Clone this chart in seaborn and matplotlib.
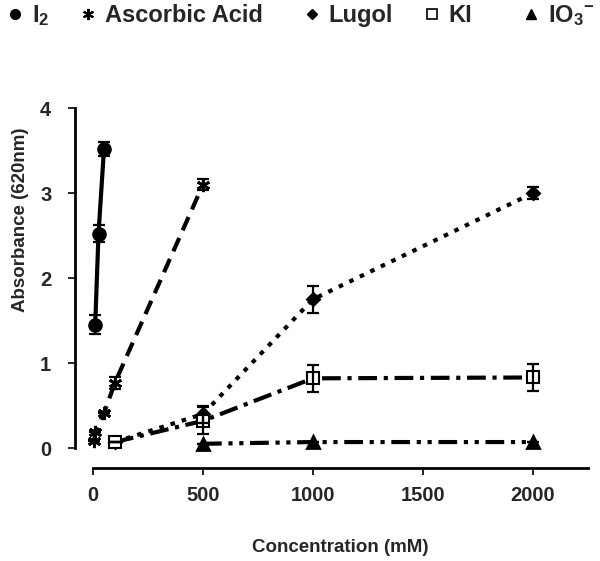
import matplotlib
matplotlib.use("Agg")
import matplotlib.pyplot as plt
from matplotlib.lines import Line2D
import seaborn as sns
import pandas as pd

# values
i2_conc = [10, 25, 50]
i2_abs = [1.45, 2.52, 3.52]
i2_err = [0.11, 0.10, 0.08]

asc_conc = [5, 10, 50, 100, 500]
asc_abs = [0.08, 0.19, 0.41, 0.77, 3.10]
asc_err = [0.0, 0.0, 0.0, 0.07, 0.07]

lugol_conc = [100, 500, 1000, 2000]
lugol_abs = [0.07, 0.40, 1.75, 3.00]
lugol_err = [0.0, 0.10, 0.16, 0.07]

ki_conc = [100, 500, 1000, 2000]
ki_abs = [0.07, 0.32, 0.82, 0.83]
ki_err = [0.0, 0.16, 0.16, 0.16]

io3_conc = [500, 1000, 2000]
io3_abs = [0.05, 0.07, 0.07]
io3_err = [0.0, 0.0, 0.0]

labels = [r"I$_2$", "Ascorbic Acid", "Lugol", "KI", r"IO$_3{}^{-}$"]
x_ticks = [0, 500, 1000, 1500, 2000]
y_ticks = [0, 1, 2, 3, 4]

sns.set_style("white")
plt.rcParams["font.family"] = ["Liberation Sans", "DejaVu Sans"]
plt.rcParams["font.weight"] = "bold"
plt.rcParams["mathtext.fontset"] = "custom"
plt.rcParams["mathtext.rm"] = "Liberation Sans:bold"
plt.rcParams["mathtext.it"] = "Liberation Sans:bold"
plt.rcParams["mathtext.bf"] = "Liberation Sans:bold"

fig = plt.figure(figsize=(6, 5.61), dpi=100)
ax = fig.add_axes([0.155, 0.2014, 0.825, 0.606])

series = [
    (i2_conc, i2_abs, i2_err, "o", "black", 8.5, "-"),
    (asc_conc, asc_abs, asc_err, (6, 2, 0), "black", 9.5, (0, (3.5, 2.0))),
    (lugol_conc, lugol_abs, lugol_err, "D", "black", 6.5, (0, (1.1, 1.7))),
    (ki_conc, ki_abs, ki_err, "s", "white", 8, (0, (4.5, 1.6, 1.0, 1.6))),
    (io3_conc, io3_abs, io3_err, "^", "black", 8, (0, (4.5, 1.6, 1.0, 1.6, 1.0, 1.6))),
]

for xs, ys, es, mk, fc, ms, ls in series:
    df = pd.DataFrame({"conc": xs, "abs": ys})
    sns.lineplot(data=df, x="conc", y="abs", ax=ax, color="black", lw=3,
                 linestyle=ls, marker=mk, markersize=ms, markerfacecolor=fc,
                 markeredgecolor="black", markeredgewidth=1.5 if fc == "white" else 2,
                 dash_capstyle="butt", clip_on=False, zorder=3)
    ax.errorbar(xs, ys, yerr=es, fmt="none", ecolor="black", elinewidth=1.6,
                capsize=4, capthick=1.6, zorder=4, clip_on=False)

ax.set_xlim(0, 2250)
ax.set_ylim(0, 4)
ax.set_xticks(x_ticks)
ax.set_yticks(y_ticks)
ax.tick_params(axis="both", labelsize=14.5, width=1.2, length=5, color="black")
ax.tick_params(axis="x", pad=8, direction="out", bottom=True)
ax.tick_params(axis="y", pad=12, direction="out", left=True)
for t in ax.get_xticklabels() + ax.get_yticklabels():
    t.set_fontweight("bold")

sns.despine(ax=ax)
ax.spines["left"].set_position(("outward", 13))
ax.spines["bottom"].set_position(("outward", 14.5))
for side in ["left", "bottom"]:
    ax.spines[side].set_linewidth(2)
    ax.spines[side].set_color("black")

ax.set_xlabel("Concentration (mM)", fontsize=13.5, fontweight="bold", labelpad=24)
ax.set_ylabel("Absorbance (620nm)", fontsize=13.5, fontweight="bold")
ax.yaxis.set_label_coords(-0.13, 0.67)

handles = [
    Line2D([], [], ls="none", marker="o", color="black", markersize=7),
    Line2D([], [], ls="none", marker=(6, 2, 0), color="black", markersize=8, markeredgewidth=1.5),
    Line2D([], [], ls="none", marker="D", color="black", markersize=5.5),
    Line2D([], [], ls="none", marker="s", color="black", markerfacecolor="white",
           markersize=7, markeredgewidth=1.2),
    Line2D([], [], ls="none", marker="^", color="black", markersize=7),
]
# left edge of each legend entry, as figure fraction
legend_x = [0.009, 0.131, 0.504, 0.704, 0.869]
for h, lab, lx in zip(handles, labels, legend_x):
    fig.legend([h], [lab], loc="center left", bbox_to_anchor=(lx, 0.972),
               frameon=False, prop={"size": 17, "weight": "bold"},
               handletextpad=0.32, handlelength=0.8, borderpad=0, borderaxespad=0)

fig.savefig("out.png", dpi=100)
